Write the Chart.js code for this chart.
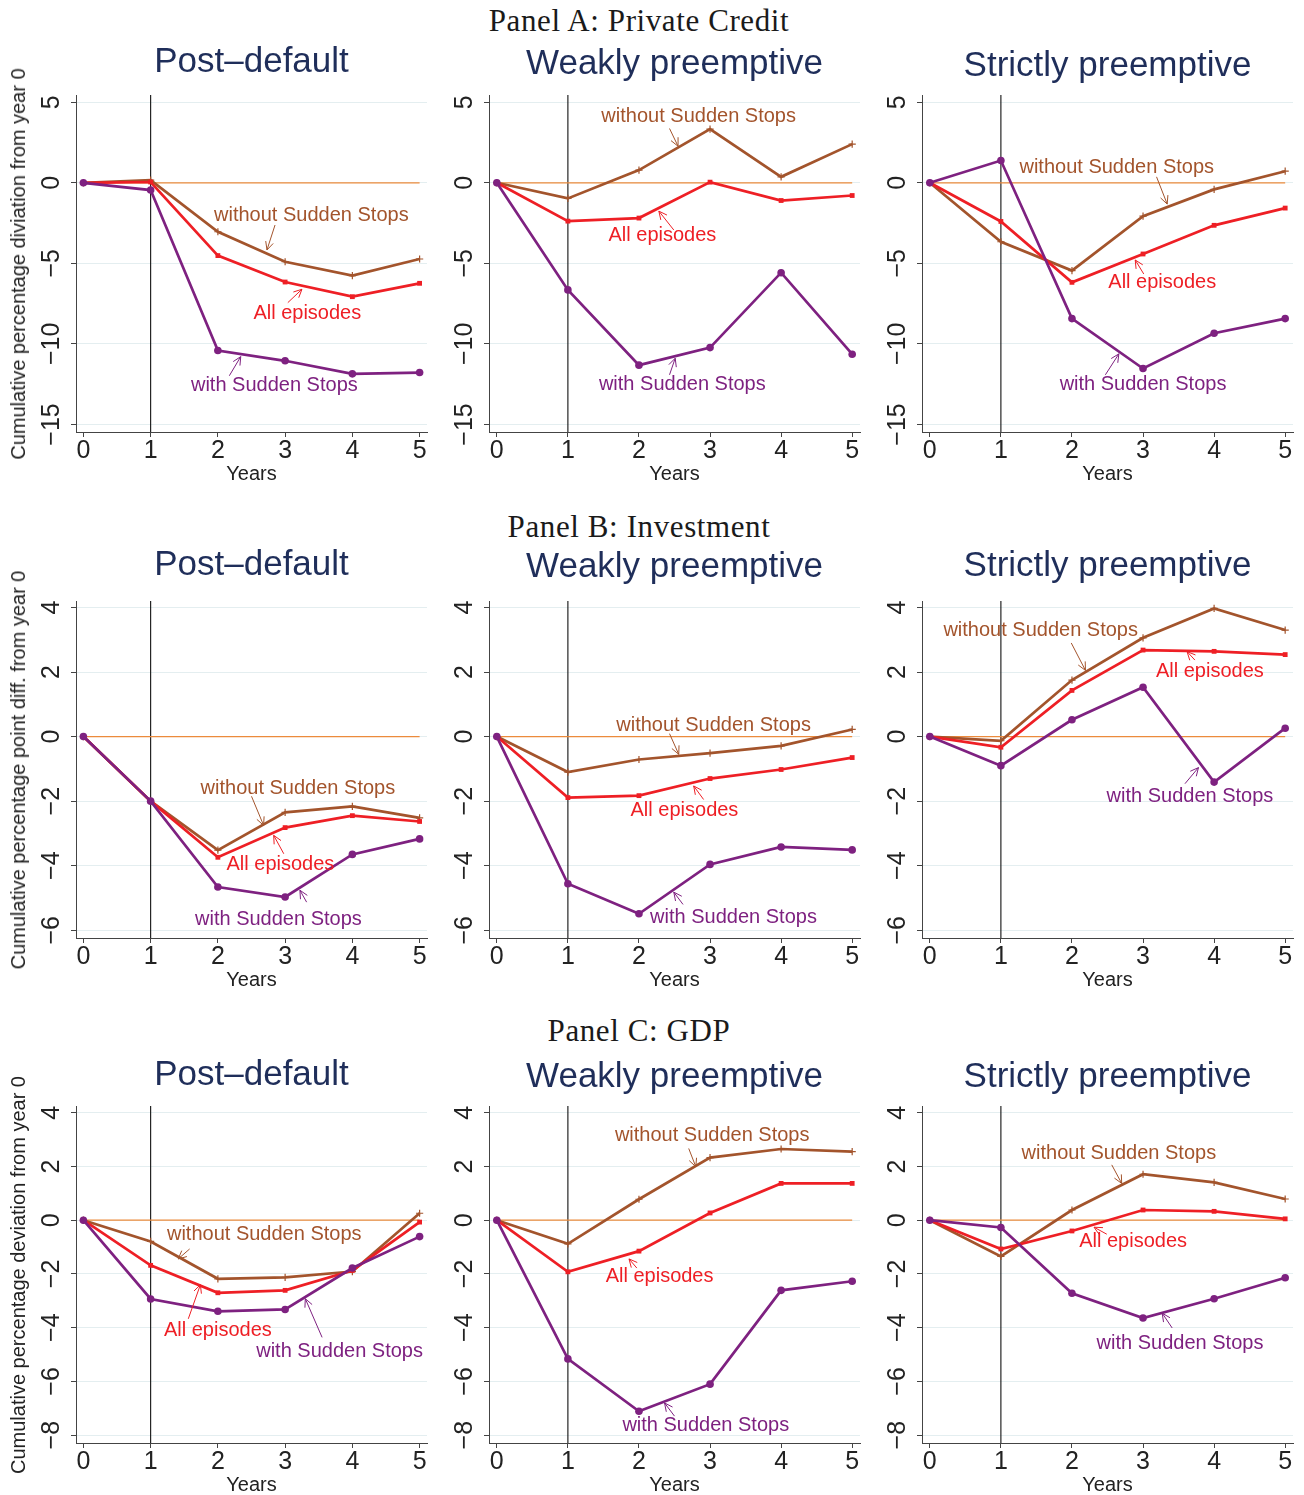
<!DOCTYPE html>
<html><head><meta charset="utf-8">
<script src="https://cdn.jsdelivr.net/npm/chart.js@4.4.1/dist/chart.umd.min.js"></script>
<style>
html,body{margin:0;padding:0;background:#fff;width:1304px;height:1495px;overflow:hidden;}
body{position:relative;}
canvas{position:absolute;}
.panel{position:absolute;left:0;width:1278px;text-align:center;font-family:"Liberation Serif","Times New Roman",serif;font-size:31px;letter-spacing:0.6px;color:#1a1a1a;line-height:1;transform:translateY(-50%);}
.ytitle{position:absolute;left:18px;font-family:"Liberation Sans",Arial,sans-serif;font-size:20px;color:#222;white-space:nowrap;line-height:1;transform:translate(-50%,-50%) rotate(-90deg);}
</style></head><body>
<div class="panel" style="top:20px">Panel A: Private Credit</div>
<div class="panel" style="top:526px">Panel B: Investment</div>
<div class="panel" style="top:1030px">Panel C: GDP</div>
<script>
// ---------- data ----------
const years = [0, 1, 2, 3, 4, 5];
const seriesNames = ['without Sudden Stops', 'All episodes', 'with Sudden Stops'];
const chartTitles = ['Post\u2013default', 'Weakly preemptive', 'Strictly preemptive'];
const panelYTitles = ['Cumulative percentage diviation from year 0',
  'Cumulative percentage point diff. from year 0',
  'Cumulative percentage deviation from year 0'];

// Panel A: Private Credit
const creditPostWithout = [0, 0.17, -3.04, -4.90, -5.76, -4.73];
const creditPostAll     = [0, 0.05, -4.52, -6.16, -7.07, -6.24];
const creditPostWith    = [0, -0.45, -10.41, -11.05, -11.86, -11.78];
const creditWeakWithout = [0, -0.97, 0.79, 3.33, 0.37, 2.40];
const creditWeakAll     = [0, -2.38, -2.19, 0.04, -1.10, -0.79];
const creditWeakWith    = [0, -6.65, -11.32, -10.23, -5.58, -10.64];
const creditStrictWithout = [0, -3.66, -5.45, -2.07, -0.41, 0.72];
const creditStrictAll     = [0, -2.40, -6.18, -4.42, -2.64, -1.57];
const creditStrictWith    = [0, 1.38, -8.43, -11.53, -9.34, -8.43];
// Panel B: Investment
const investPostWithout = [0, -2.00, -3.52, -2.35, -2.16, -2.52];
const investPostAll     = [0, -2.00, -3.74, -2.82, -2.45, -2.63];
const investPostWith    = [0, -2.00, -4.66, -4.97, -3.65, -3.17];
const investWeakWithout = [0, -1.10, -0.71, -0.51, -0.29, 0.22];
const investWeakAll     = [0, -1.89, -1.83, -1.30, -1.02, -0.65];
const investWeakWith    = [0, -4.56, -5.49, -3.96, -3.42, -3.51];
const investStrictWithout = [0, -0.13, 1.75, 3.06, 3.97, 3.30];
const investStrictAll     = [0, -0.33, 1.43, 2.68, 2.64, 2.54];
const investStrictWith    = [0, -0.90, 0.52, 1.53, -1.41, 0.26];
// Panel C: GDP
const gdpPostWithout = [0, -0.79, -2.18, -2.13, -1.91, 0.26];
const gdpPostAll     = [0, -1.68, -2.70, -2.61, -1.87, -0.07];
const gdpPostWith    = [0, -2.93, -3.39, -3.32, -1.78, -0.61];
const gdpWeakWithout = [0, -0.88, 0.78, 2.33, 2.65, 2.55];
const gdpWeakAll     = [0, -1.92, -1.15, 0.27, 1.37, 1.37];
const gdpWeakWith    = [0, -5.16, -7.11, -6.10, -2.61, -2.27];
const gdpStrictWithout = [0, -1.35, 0.38, 1.71, 1.41, 0.79];
const gdpStrictAll     = [0, -1.07, -0.40, 0.38, 0.33, 0.05];
const gdpStrictWith    = [0, -0.27, -2.72, -3.64, -2.92, -2.14];

// ---------- styles / layout ----------
const BROWN = '#a3542c', RED = '#ee1f25', PURPLE = '#7e2180', ORANGE = '#ec8b3c';
const SANS = "'Liberation Sans', Arial, sans-serif";
const fmt = v => v < 0 ? '\u2212' + Math.abs(v) : String(v);

const rows = [
  {top: 30, yMin: -15.47, yMax: 5.45, step: 5, ytitle: panelYTitles[0],
   titlePad: [[14, 15], [16, 13], [18, 11]],
   sets: [[creditPostWithout, creditPostAll, creditPostWith],
          [creditWeakWithout, creditWeakAll, creditWeakWith],
          [creditStrictWithout, creditStrictAll, creditStrictWith]],
   notes: [
     [[3.39, -2.0, 2.85, -2.62, 2.73, -4.17], [3.33, -8.1, 3.04, -7.44, 3.25, -6.61], [2.84, -12.6, 2.17, -11.98, 2.34, -10.79]],
     [[2.84, 4.13, 2.43, 3.37, 2.55, 2.27], [2.33, -3.24, 2.49, -2.93, 2.28, -1.76], [2.61, -12.5, 2.43, -11.92, 2.51, -10.89]],
     [[2.63, 0.95, 3.19, 0.37, 3.34, -1.32], [3.27, -6.18, 3.01, -5.66, 2.89, -4.79], [3.0, -12.54, 2.47, -11.92, 2.66, -10.62]]
   ]},
  {top: 536, yMin: -6.24, yMax: 4.2, step: 2, ytitle: panelYTitles[1],
   titlePad: [[11, 18], [13, 16], [12, 17]],
   sets: [[investPostWithout, investPostAll, investPostWith],
          [investWeakWithout, investWeakAll, investWeakWith],
          [investStrictWithout, investStrictAll, investStrictWith]],
   notes: [
     [[3.19, -1.62, 2.5, -1.85, 2.68, -2.75], [2.93, -3.97, 2.98, -3.63, 2.83, -3.06], [2.9, -5.67, 3.32, -5.13, 3.22, -4.76]],
     [[3.05, 0.33, 2.43, 0.09, 2.56, -0.55], [2.64, -2.28, 2.91, -1.95, 2.77, -1.53], [3.33, -5.61, 2.62, -5.2, 2.49, -4.82]],
     [[1.56, 3.3, 1.99, 2.9, 2.19, 2.05], [3.94, 2.03, 3.73, 2.37, 3.62, 2.63], [3.66, -1.87, 3.59, -1.46, 3.78, -0.96]]
   ]},
  {top: 1041, yMin: -8.29, yMax: 4.25, step: 2, ytitle: panelYTitles[2],
   titlePad: [[16, 13], [18, 11], [18, 11]],
   sets: [[gdpPostWithout, gdpPostAll, gdpPostWith],
          [gdpWeakWithout, gdpWeakAll, gdpWeakWith],
          [gdpStrictWithout, gdpStrictAll, gdpStrictWith]],
   notes: [
     [[2.69, -0.52, 1.58, -1.07, 1.41, -1.44], [2.0, -4.09, 1.56, -3.67, 1.74, -2.4], [3.81, -4.88, 3.55, -4.36, 3.3, -2.92]],
     [[3.03, 3.15, 2.7, 2.67, 2.8, 1.99], [2.29, -2.09, 1.97, -1.78, 1.86, -1.44], [2.94, -7.63, 2.5, -7.29, 2.36, -6.8]],
     [[2.66, 2.49, 2.56, 2.06, 2.7, 1.37], [2.86, -0.79, 2.49, -0.52, 2.31, -0.26], [3.52, -4.57, 3.41, -4.01, 3.27, -3.46]]
   ]}
];
const cols = [
  {left: 0, yAxisW: 76, plotW: 351},
  {left: 440, yAxisW: 49, plotW: 371},
  {left: 870, yAxisW: 52, plotW: 371}
];
const TITLE_H = 65, PLOT_H = 337, XAXIS_H = 52, RIGHT_PAD = 10;
const LABEL_OFFSET = 24, TICK_LEN = 5, TICK_FONT = 25;

const measureCtx = document.createElement('canvas').getContext('2d');
measureCtx.font = TICK_FONT + 'px ' + SANS;

function notesPlugin(items) {
  return {
    id: 'notes',
    afterDatasetsDraw(chart) {
      const ctx = chart.ctx, xs = chart.scales.x, ys = chart.scales.y;
      ctx.save();
      items.forEach(n => {
        const tx = xs.getPixelForValue(n.t[0]), ty = ys.getPixelForValue(n.t[1]);
        const x0 = xs.getPixelForValue(n.t[2]), y0 = ys.getPixelForValue(n.t[3]);
        const x1 = xs.getPixelForValue(n.t[4]), y1 = ys.getPixelForValue(n.t[5]);
        ctx.strokeStyle = n.color; ctx.lineWidth = 1;
        ctx.beginPath(); ctx.moveTo(x0, y0); ctx.lineTo(x1, y1); ctx.stroke();
        const ang = Math.atan2(y1 - y0, x1 - x0), L = 9, spread = 0.45;
        ctx.beginPath();
        ctx.moveTo(x1 - L * Math.cos(ang - spread), y1 - L * Math.sin(ang - spread));
        ctx.lineTo(x1, y1);
        ctx.lineTo(x1 - L * Math.cos(ang + spread), y1 - L * Math.sin(ang + spread));
        ctx.stroke();
        ctx.font = '20px ' + SANS;
        ctx.fillStyle = n.color; ctx.textAlign = 'center'; ctx.textBaseline = 'middle';
        ctx.fillText(n.text, tx, ty);
      });
      ctx.restore();
    }
  };
}

const pts = arr => arr.map((v, i) => ({x: years[i], y: v}));

rows.forEach((row, r) => {
  const yt = document.createElement('div');
  yt.className = 'ytitle';
  yt.textContent = row.ytitle;
  yt.style.top = (row.top + TITLE_H + PLOT_H / 2) + 'px';
  cols.forEach((col, c) => {
    const cv = document.createElement('canvas');
    const W = col.yAxisW + col.plotW + RIGHT_PAD, H = TITLE_H + PLOT_H + XAXIS_H;
    cv.width = W; cv.height = H;
    cv.style.left = col.left + 'px'; cv.style.top = row.top + 'px';
    cv.style.width = W + 'px'; cv.style.height = H + 'px';
    document.body.appendChild(cv);

    const tickVals = [];
    for (let v = Math.ceil(row.yMin / row.step) * row.step; v <= row.yMax; v += row.step) tickVals.push(v);
    const widest = Math.max(...tickVals.map(v => measureCtx.measureText(fmt(v)).width));
    const yPad = LABEL_OFFSET - TICK_LEN - widest / 2;

    const [wo, al, wi] = row.sets[c];
    const colors = [BROWN, RED, PURPLE];
    const items = row.notes[c].map((t, k) => ({t, text: seriesNames[k], color: colors[k]}));

    new Chart(cv, {
      type: 'line',
      data: {datasets: [
        {label: seriesNames[2], data: pts(wi), borderColor: PURPLE, backgroundColor: PURPLE, borderWidth: 2.7,
         pointStyle: 'circle', pointRadius: 3.8, pointBorderWidth: 0, tension: 0},
        {label: seriesNames[1], data: pts(al), borderColor: RED, backgroundColor: RED, borderWidth: 2.7,
         pointStyle: 'rect', pointRadius: 3.4, pointBorderWidth: 0, tension: 0},
        {label: seriesNames[0], data: pts(wo), borderColor: BROWN, backgroundColor: BROWN, borderWidth: 2.7,
         pointStyle: 'cross', pointRadius: 3.6, pointBorderWidth: 1.2, tension: 0},
        {label: 'zero', data: [{x: 0, y: 0}, {x: 5, y: 0}], borderColor: ORANGE, borderWidth: 1.3, pointRadius: 0},
        {label: 'year 1', data: [{x: 1, y: row.yMin}, {x: 1, y: row.yMax}], borderColor: '#111', borderWidth: 1.1, pointRadius: 0}
      ]},
      options: {
        responsive: false, animation: false, events: [], devicePixelRatio: 1,
        layout: {padding: {left: 0, right: RIGHT_PAD, top: 0, bottom: 0}},
        plugins: {
          legend: {display: false}, tooltip: {enabled: false},
          title: {display: true, text: chartTitles[c], color: '#1f2e5a', fullSize: false,
                  font: {family: SANS, size: 35, weight: 'normal', lineHeight: 1},
                  padding: {top: row.titlePad[c][0] + 0.5, bottom: row.titlePad[c][1] + 0.5}}
        },
        scales: {
          x: {type: 'linear', min: -0.11, max: 5.11,
              afterFit: s => { s.height = XAXIS_H; },
              ticks: {stepSize: 1, includeBounds: false, autoSkip: false, maxRotation: 0,
                      font: {family: SANS, size: TICK_FONT, lineHeight: 1}, color: '#222', padding: 2},
              grid: {drawOnChartArea: false, drawTicks: true, tickLength: TICK_LEN, tickColor: '#444'},
              border: {display: true, color: '#444', width: 1},
              title: {display: true, text: 'Years', color: '#222', font: {family: SANS, size: 20, lineHeight: 1},
                      padding: {top: 0, bottom: 0}}},
          y: {type: 'linear', min: row.yMin, max: row.yMax,
              afterFit: s => { s.width = col.yAxisW; },
              ticks: {stepSize: row.step, includeBounds: false, minRotation: 90, maxRotation: 90,
                      crossAlign: 'center', padding: yPad, callback: v => fmt(v),
                      font: {family: SANS, size: TICK_FONT}, color: '#222'},
              grid: {color: '#e4eef0', lineWidth: 1, drawTicks: true, tickLength: TICK_LEN, tickColor: '#444'},
              border: {display: true, color: '#444', width: 1}}
        }
      },
      plugins: [notesPlugin(items)]
    });
  });
  document.body.appendChild(yt);
});
</script>
</body></html>
